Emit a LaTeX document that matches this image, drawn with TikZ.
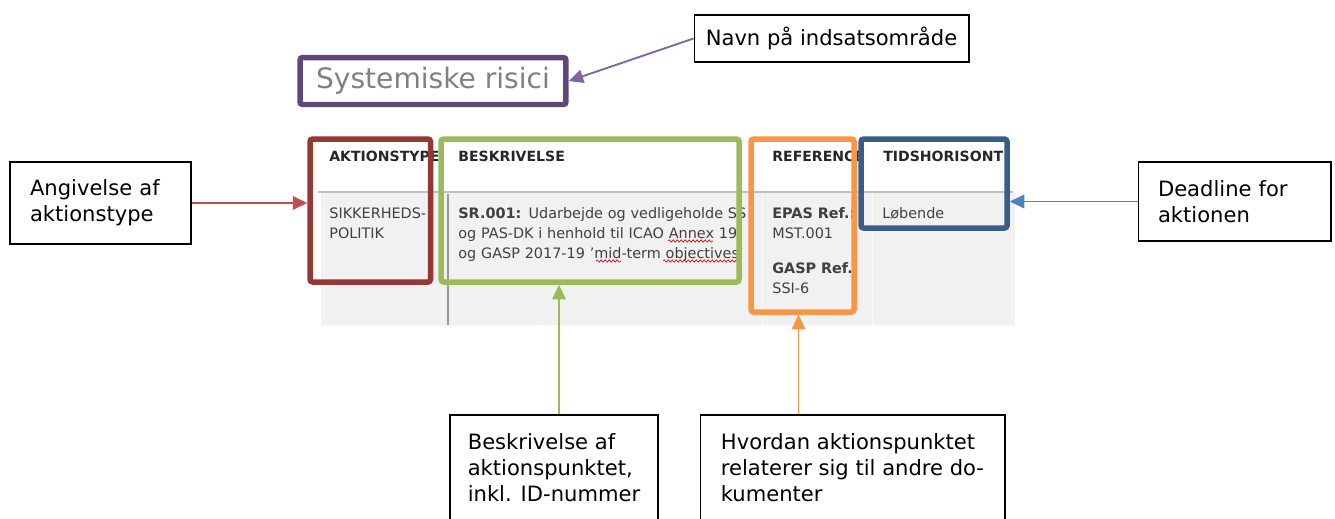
\documentclass[tikz,border=0pt]{standalone}
\usepackage{fontspec}
\setmainfont{DejaVu Sans}
\usepackage{tikz}
\usetikzlibrary{arrows.meta, positioning, fit, calc, decorations.pathmorphing}
\definecolor{TitlePurple}{HTML}{5F497A}
\definecolor{ArrowPurple}{HTML}{8064A2}
\definecolor{BoxRed}{HTML}{953735}
\definecolor{ArrowRed}{HTML}{C0504D}
\definecolor{BoxGreen}{HTML}{9BBB59}
\definecolor{BoxOrange}{HTML}{F79646}
\definecolor{BoxBlue}{HTML}{385D8A}
\definecolor{ArrowBlue}{HTML}{4F81BD}
\definecolor{TableGray}{HTML}{F1F1F1}
\definecolor{RuleGray}{HTML}{BFBFBF}
\newcommand{\callfont}{\fontsize{12pt}{14.7pt}\selectfont}
\newcommand{\hdfont}{\fontsize{8pt}{11.4pt}\selectfont\bfseries}
\newcommand{\cellfont}{\fontsize{8.2pt}{11.4pt}\selectfont}
\tikzset{
    callout/.style={draw=black, line width=0.6pt, fill=white, align=left, font=\callfont, inner xsep=0.4cm, inner ysep=0pt},
    markbox/.style={line width=0.11cm, rounded corners=1.5pt, inner sep=0pt},
    arr/.style={-{Triangle[length=0.29cm, width=0.27cm]}, line width=1.05pt},
    cellhead/.style={anchor=base west, font=\hdfont, text=black!85, inner sep=0pt},
    cell/.style={anchor=base west, font=\cellfont, text=black!75, inner sep=0pt, align=left, text width=6cm},
    spell/.style={draw=red!85!black, line width=0.35pt, decorate, decoration={snake, amplitude=0.025cm, segment length=0.08cm}}
}
\begin{document}
\begin{tikzpicture}[x=0.02cm, y=-0.02cm]
    \clip (0,0) rectangle (1335,518);

    % Table (screenshot)
    \fill[TableGray] (321,193) rectangle (1015,325);
    \draw[RuleGray, line width=0.04cm] (318,192) -- (1013,192);
    \draw[RuleGray!80!black, line width=0.03cm] (448,194) -- (448,325);
    \draw[white!70!TableGray, line width=0.02cm] (762,194) -- (762,325);
    \draw[white!70!TableGray, line width=0.02cm] (872,194) -- (872,325);

    \node[cellhead] (hakt) at (329,161) {AKTIONSTYPE};
    \node[cellhead] (hbes) at (458,161) {BESKRIVELSE};
    \node[cellhead] (href) at (772,161) {REFERENCE};
    \node[cellhead] (htid) at (883,161) {TIDSHORISONT};

    \node[cell] (ctype) at (329,218) {SIKKERHEDS-\\POLITIK};
    \begin{scope}
        \clip (449,194) rectangle (746,325);
        \node[cell, text width=8cm] (cdesc) at (458,218) {\textbf{SR.001:} Udarbejde og vedligeholde SSP\\og PAS-DK i henhold til ICAO Annex 19\\og GASP 2017-19 ’mid-term objectives’};
        \draw[spell] (668,241) -- (713,241);
        \draw[spell] (596,261) -- (621,261);
        \draw[spell] (663,261) -- (740,261);
    \end{scope}
    \node[cell] (cref) at (772,218) {\textbf{EPAS Ref.:}\\MST.001\\[0.3cm]\textbf{GASP Ref.:}\\SSI-6};
    \node[cell] (ctid) at (882,218) {Løbende};

    % Highlight boxes
    \node[markbox, draw=TitlePurple, fill=white, minimum width=5.32cm, minimum height=0.94cm,
          font=\fontsize{16pt}{19pt}\selectfont, text=black!50] (titlebox) at (433,81) {Systemiske risici};
    \node[markbox, draw=BoxRed, fit={(310,139) (430.5,282)}] (aktbox) {};
    \node[markbox, draw=BoxGreen, fit={(441,139) (739,282)}] (beskbox) {};
    \node[markbox, draw=BoxOrange, fit={(751,139) (854,312)}] (refbox) {};
    \node[markbox, draw=BoxBlue, fit={(861,139) (1007,228)}] (tidbox) {};

    % Callouts
    \node[callout, inner xsep=0.23cm, minimum width=5.5cm, minimum height=0.94cm] (navn) at (831.5,38.5) {Navn på indsatsområde};
    \node[callout, text width=2.82cm, minimum height=1.64cm] (angiv) at (100.5,203) {Angivelse af\\aktionstype};
    \node[callout, text width=3.06cm, minimum height=1.58cm] (dead) at (1234.5,201.5) {Deadline for\\aktionen};
    \node[callout, inner xsep=0.2cm, minimum width=4.16cm, minimum height=2.1cm] (beskr) at (554,467.5) {Beskrivelse af\\aktionspunktet,\\inkl. ID-nummer};
    \node[callout, inner xsep=0.2cm, minimum width=6.1cm, minimum height=2.1cm] (hvord) at (852.5,467.5) {Hvordan aktionspunktet\\relaterer sig til andre do-\\kumenter};

    % Connectors
    \draw[arr, draw=ArrowPurple, fill=ArrowPurple] (navn.west) -- (titlebox.east);
    \draw[arr, draw=ArrowRed, fill=ArrowRed] (angiv.east) -- (angiv.east -| aktbox.west);
    \draw[arr, draw=ArrowBlue, fill=ArrowBlue] (dead.west) -- (dead.west -| tidbox.east);
    \draw[arr, draw=BoxGreen, fill=BoxGreen] ($(beskr.north)+(5,0)$) -- ($(beskr.north |- beskbox.south)+(5,0)$);
    \draw[arr, draw=BoxOrange, fill=BoxOrange] ($(hvord.north -| refbox.south)+(-4,0)$) -- ($(refbox.south)+(-4,0)$);
\end{tikzpicture}
\end{document}
